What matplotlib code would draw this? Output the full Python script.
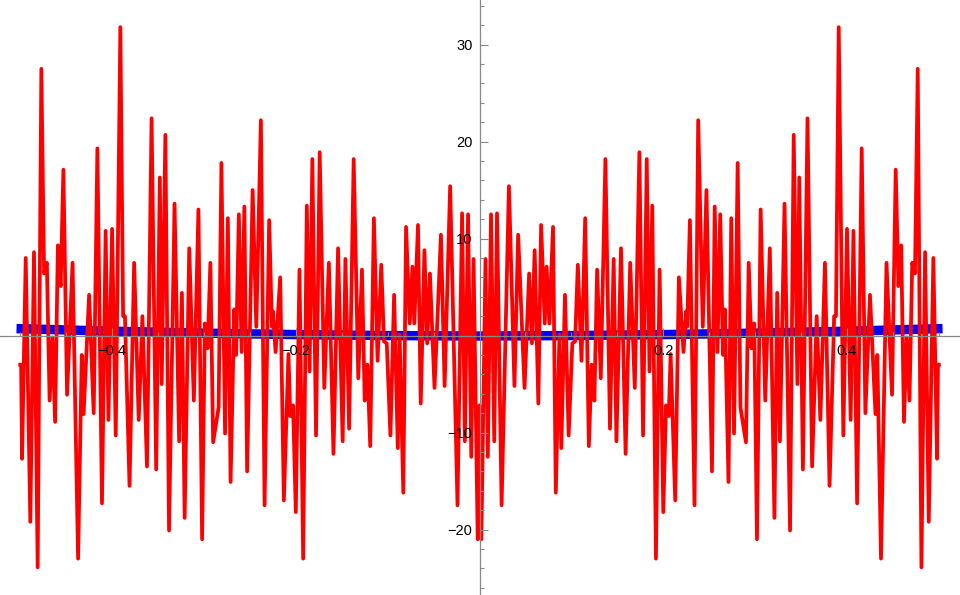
import numpy as np
import matplotlib
matplotlib.use("Agg")
import matplotlib.pyplot as plt
from matplotlib.ticker import FixedLocator, FuncFormatter

plt.rcParams['font.family'] = ['Liberation Sans', 'DejaVu Sans']

# red curve, left half (x <= 0), read peak by peak; the plot is even in x
red_x_half = [-0.500, -0.499, -0.498, -0.494, -0.489, -0.485, -0.481, -0.477, -0.474, -0.471,
              -0.468, -0.465, -0.462, -0.459, -0.456, -0.453, -0.449, -0.443, -0.437, -0.433,
              -0.431, -0.425, -0.420, -0.416, -0.411, -0.407, -0.404, -0.400, -0.396, -0.391,
              -0.388, -0.386, -0.381, -0.376, -0.371, -0.367, -0.362, -0.357, -0.352, -0.348,
              -0.346, -0.342, -0.338, -0.332, -0.327, -0.324, -0.321, -0.316, -0.311, -0.306,
              -0.302, -0.299, -0.296, -0.293, -0.290, -0.284, -0.281, -0.277, -0.274, -0.271,
              -0.267, -0.265, -0.262, -0.259, -0.256, -0.253, -0.247, -0.243, -0.238, -0.234,
              -0.229, -0.226, -0.225, -0.222, -0.217, -0.213, -0.208, -0.206, -0.203, -0.200,
              -0.196, -0.192, -0.188, -0.185, -0.182, -0.178, -0.174, -0.169, -0.164, -0.159,
              -0.154, -0.149, -0.146, -0.142, -0.137, -0.132, -0.128, -0.125, -0.122, -0.119,
              -0.115, -0.111, -0.107, -0.104, -0.101, -0.097, -0.093, -0.089, -0.087, -0.083,
              -0.080, -0.076, -0.073, -0.071, -0.067, -0.064, -0.060, -0.057, -0.054, -0.049,
              -0.042, -0.038, -0.032, -0.024, -0.019, -0.016, -0.0125, -0.009, -0.0065, -0.002,
              0.0]
red_y_half = [-3.0, -3.0, -12.7, 8.0, -19.2, 8.6, -23.9, 27.5, 6.4, 7.5,
              -6.7, -0.2, -8.9, 9.3, 5.1, 17.1, -6.1, 7.5, -23.0, -2.0,
              -8.1, 4.2, -8.0, 19.3, -17.3, 10.8, -8.7, 11.0, -10.3, 31.8,
              2.0, 2.0, -15.5, 7.5, -8.7, 2.0, -13.5, 22.4, -13.8, 16.3,
              -5.0, 20.7, -20.1, 13.6, -10.9, 4.4, -18.8, 9.0, -6.7, 13.0,
              -21.0, 1.25, -1.3, 7.5, -11.0, -7.4, 17.8, -10.1, 12.1, -15.1,
              2.7, -2.0, 12.5, -1.7, 13.3, -14.0, 15.0, 0.9, 22.2, -17.5,
              11.9, 0.9, 2.5, -1.7, 6.0, -17.0, -1.9, -8.3, -7.2, -18.2,
              6.8, -23.0, 13.4, -3.7, 18.2, -10.3, 18.9, -5.4, 7.5, -12.2,
              9.0, -10.9, 7.9, -9.6, 18.2, -4.4, 6.8, -6.7, -3.0, -11.4,
              12.1, -2.6, 7.3, -0.6, -0.8, -10.3, 4.2, -11.6, 0.1, -16.2,
              11.2, 1.25, 7.1, 1.25, 11.4, -7.0, 8.8, -0.8, 6.4, -5.4,
              10.4, -5.2, 15.4, -17.5, 12.6, -10.9, 12.5, -12.5, 7.9, -21.0,
              -7.2]

# blue curve, left half
blue_x_half = [-0.504, -0.4, -0.3, -0.2, -0.1, 0.0]
blue_y_half = [0.72, 0.45, 0.25, 0.1, 0.0, -0.05]

x_ticks = [-0.4, -0.2, 0.2, 0.4]
y_ticks = [-20, -10, 10, 20, 30]

red_x = red_x_half + [-v for v in red_x_half[-2::-1]]
red_y = red_y_half + red_y_half[-2::-1]
blue_x = blue_x_half + [-v for v in blue_x_half[-2::-1]]
blue_y = blue_y_half + blue_y_half[-2::-1]

fig = plt.figure(figsize=(9.6, 5.95), dpi=100)
ax = fig.add_axes([0, 0, 1, 1])

ax.plot(blue_x, blue_y, color=(0, 0, 1), linewidth=6.8, solid_capstyle='butt', zorder=1)
ax.plot(red_x, red_y, color=(1, 0, 0), linewidth=2.7, solid_joinstyle='round', zorder=2)

ax.set_xlim(-0.522, 0.523)
ax.set_ylim(-26.75, 34.6)

# Mathematica style axes through the origin, labels drawn over the curves
for side in ['top', 'right']:
    ax.spines[side].set_visible(False)
ax.spines['left'].set_position(('data', 0))
ax.spines['bottom'].set_position(('data', 0))
for side in ['left', 'bottom']:
    ax.spines[side].set_color('#888888')
    ax.spines[side].set_linewidth(0.9)
    ax.spines[side].set_zorder(2.5)
ax.xaxis.set_zorder(3)
ax.yaxis.set_zorder(3)

ax.xaxis.set_major_locator(FixedLocator(x_ticks))
ax.xaxis.set_minor_locator(FixedLocator(np.arange(-0.5, 0.51, 0.05)))
ax.yaxis.set_major_locator(FixedLocator(y_ticks))
ax.yaxis.set_minor_locator(FixedLocator(np.arange(-26, 35, 2)))

fmt_x = FuncFormatter(lambda v, p: ('%.1f' % v).replace('-', '\u2212'))
fmt_y = FuncFormatter(lambda v, p: ('%d' % v).replace('-', '\u2212'))
ax.xaxis.set_major_formatter(fmt_x)
ax.yaxis.set_major_formatter(fmt_y)

ax.tick_params(which='both', direction='in', color='#888888', width=0.8, labelsize=10.5,
               labelcolor='black')
ax.tick_params(which='major', length=5.5)
ax.tick_params(which='minor', length=3)
ax.tick_params(axis='x', which='both', pad=6)
ax.tick_params(axis='y', which='both', pad=5)

fig.savefig('out.png', dpi=100)
